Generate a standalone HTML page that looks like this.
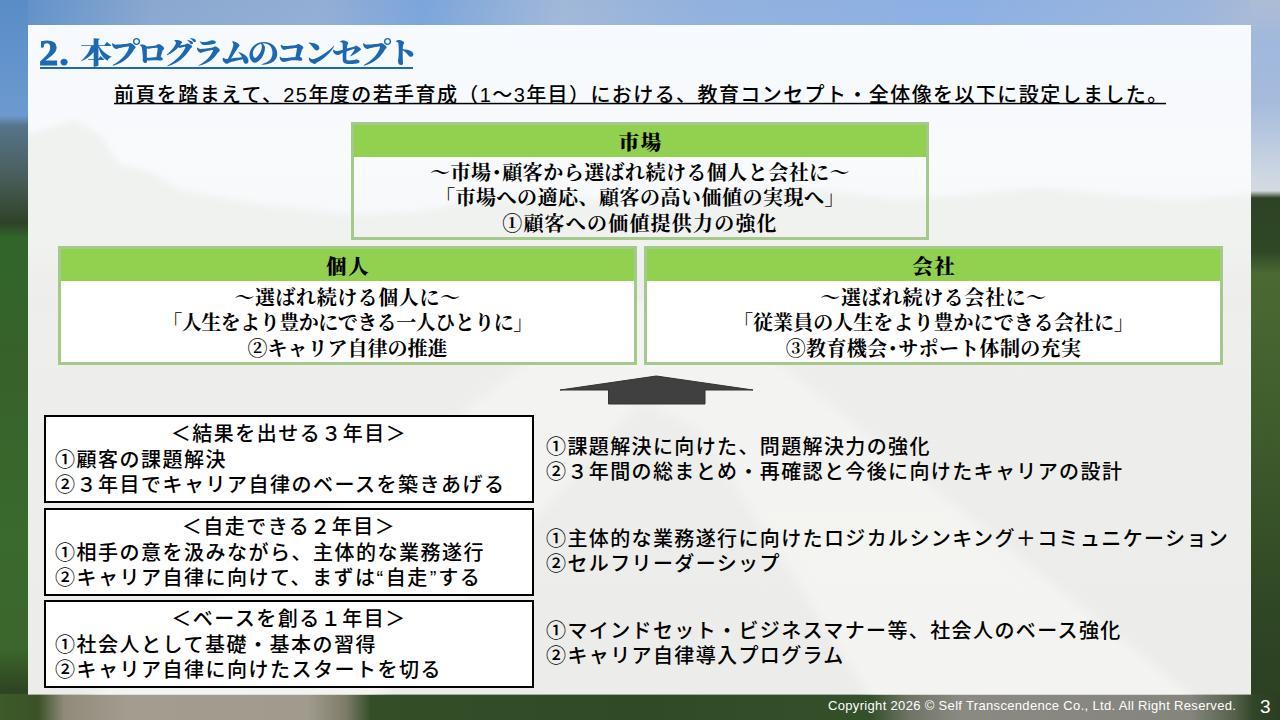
<!DOCTYPE html>
<html lang="ja">
<head>
<meta charset="utf-8">
<title>2. 本プログラムのコンセプト</title>
<style>
html,body{margin:0;padding:0;}
body{width:1280px;height:720px;overflow:hidden;position:relative;background:#3a5a2a;font-family:"Liberation Sans","Noto Sans CJK JP",sans-serif;color:#000;}
#bg{position:absolute;left:0;top:0;width:1280px;height:720px;}
.abs{position:absolute;white-space:nowrap;}
#title{left:39px;top:35px;font-family:"Liberation Serif","Noto Serif CJK JP","Noto Serif CJK SC",serif;font-weight:900;font-size:29px;letter-spacing:-3.6px;line-height:38px;color:#1d69b1;transform:scaleX(1.1);transform-origin:0 0;}
#title b{font-family:"Liberation Serif",serif;font-weight:700;font-size:35px;letter-spacing:1px;margin-right:5.6px;line-height:30px;position:relative;top:0.5px;-webkit-text-stroke:0.9px #1d69b1;}
#tul{left:40px;top:67px;width:373px;height:2px;background:#1d69b1;}
#sub{left:114px;top:81.6px;font-size:20px;line-height:26px;font-weight:500;letter-spacing:1.415px;}
#sul{left:114px;top:102px;width:1052px;height:3px;background:linear-gradient(rgba(0,0,0,.2) 33%,#000 33%,#000 66%,rgba(0,0,0,.3) 66%);}
.gbox{position:absolute;box-sizing:border-box;border:3px solid #a5c98b;background:#fff;font-family:"Liberation Serif","Noto Serif CJK JP","Noto Serif CJK SC",serif;font-weight:700;font-size:20px;text-align:center;}
.gbox .hd{background:#92d050;height:32px;line-height:37.4px;font-weight:900;font-size:20.5px;letter-spacing:1.5px;text-indent:1.5px;overflow:hidden;}
.gbox .bd{line-height:25.3px;padding-top:4.8px;}
.gbox .bd div{white-space:nowrap;}
.kbox{position:absolute;box-sizing:border-box;border:2px solid #000;background:#fff;left:44px;width:490px;height:88px;font-size:20px;font-weight:500;line-height:25.4px;padding:5.3px 0 0 9px;letter-spacing:1.5px;}
.kbox .c{text-align:center;margin-left:-9px;}
.rt{left:546px;font-size:20px;font-weight:500;line-height:25.2px;letter-spacing:1.38px;}
#copy{left:828px;top:696px;color:#fff;font-size:13px;letter-spacing:0.33px;line-height:20px;}
#pn{left:1260px;top:693px;color:#fff;font-size:19px;line-height:28px;}
</style>
</head>
<body>
<svg id="bg" viewBox="0 0 1280 720" preserveAspectRatio="none">
<defs>
<linearGradient id="sky" x1="0" y1="0" x2="1" y2="0">
<stop offset="0" stop-color="#598bc6"/><stop offset="0.04" stop-color="#6a96cb"/><stop offset="0.12" stop-color="#8aa8d0"/><stop offset="0.25" stop-color="#93aed4"/><stop offset="0.33" stop-color="#7ba5dc"/><stop offset="0.44" stop-color="#a1b8d8"/><stop offset="0.55" stop-color="#92b1de"/><stop offset="0.75" stop-color="#8cb0e4"/><stop offset="0.93" stop-color="#9bb5dc"/><stop offset="1" stop-color="#acbdd6"/>
</linearGradient>
<linearGradient id="haze" x1="0" y1="0" x2="0" y2="1">
<stop offset="0" stop-color="#fff" stop-opacity="0"/><stop offset="0.35" stop-color="#fff" stop-opacity="0.05"/><stop offset="1" stop-color="#fff" stop-opacity="0.5"/>
</linearGradient>
<linearGradient id="grass" x1="0" y1="0" x2="0" y2="1">
<stop offset="0" stop-color="#35552a"/><stop offset="0.5" stop-color="#3a5e2a"/><stop offset="1" stop-color="#34502a"/>
</linearGradient>
<linearGradient id="ls" x1="0" y1="0" x2="0" y2="720" gradientUnits="userSpaceOnUse">
<stop offset="0" stop-color="#5a8cc7"/><stop offset="0.16" stop-color="#6c9ad0"/><stop offset="0.175" stop-color="#56748a"/><stop offset="0.25" stop-color="#485c58"/><stop offset="0.31" stop-color="#2e4228"/><stop offset="0.33" stop-color="#31662a"/><stop offset="0.5" stop-color="#37622a"/><stop offset="0.75" stop-color="#3a6a2c"/><stop offset="0.9" stop-color="#3c662c"/><stop offset="0.96" stop-color="#2e4422"/><stop offset="1" stop-color="#4a4a30"/>
</linearGradient>
<linearGradient id="rs" x1="0" y1="0" x2="0" y2="720" gradientUnits="userSpaceOnUse">
<stop offset="0" stop-color="#adbcd4"/><stop offset="0.06" stop-color="#a0b8dc"/><stop offset="0.14" stop-color="#a4bbdc"/><stop offset="0.24" stop-color="#ccd6e2"/><stop offset="0.265" stop-color="#d4dae2"/><stop offset="0.275" stop-color="#2d4224"/><stop offset="0.35" stop-color="#304826"/><stop offset="0.38" stop-color="#4a6a32"/><stop offset="0.6" stop-color="#3f5c2c"/><stop offset="0.85" stop-color="#2f4624"/><stop offset="1" stop-color="#2c3e22"/>
</linearGradient>
<linearGradient id="pg" x1="0" y1="25" x2="0" y2="694" gradientUnits="userSpaceOnUse">
<stop offset="0" stop-color="#f6f9fd"/><stop offset="0.2" stop-color="#f8fafc"/><stop offset="0.3" stop-color="#f6f8f9"/><stop offset="0.36" stop-color="#eeefed"/><stop offset="1" stop-color="#ececea"/>
</linearGradient>
<linearGradient id="tf" x1="0" y1="0" x2="0" y2="1">
<stop offset="0" stop-color="#f0f2f0"/><stop offset="1" stop-color="#ededeb"/>
</linearGradient>
<linearGradient id="bs" x1="0" y1="0" x2="1280" y2="0" gradientUnits="userSpaceOnUse">
<stop offset="0" stop-color="#3c5a2a"/><stop offset="0.03" stop-color="#3c5228"/><stop offset="0.05" stop-color="#8f8a7a"/><stop offset="0.1" stop-color="#a39d8f"/><stop offset="0.24" stop-color="#a19b8d"/><stop offset="0.27" stop-color="#7d7c68"/><stop offset="0.29" stop-color="#344e28"/><stop offset="0.5" stop-color="#304a26"/><stop offset="0.68" stop-color="#34502a"/><stop offset="0.71" stop-color="#6f7466"/><stop offset="0.75" stop-color="#8b8a82"/><stop offset="0.93" stop-color="#85857e"/><stop offset="0.965" stop-color="#55604a"/><stop offset="0.98" stop-color="#304426"/><stop offset="1" stop-color="#2c3e22"/>
</linearGradient>
<clipPath id="pc"><rect x="28" y="25" width="1223" height="669.6"/></clipPath>
<filter id="bl" x="-10%" y="-10%" width="120%" height="120%"><feGaussianBlur stdDeviation="6"/></filter>
<filter id="bl2" x="-10%" y="-10%" width="120%" height="120%"><feGaussianBlur stdDeviation="3"/></filter>
</defs>
<rect width="1280" height="720" fill="url(#grass)"/>
<rect width="1280" height="260" fill="url(#sky)"/>
<rect width="1280" height="215" fill="url(#haze)"/>
<rect x="0" y="0" width="28" height="720" fill="url(#ls)"/>
<rect x="1251" y="0" width="29" height="720" fill="url(#rs)"/>
<rect x="0" y="694" width="1280" height="26" fill="url(#bs)"/>
<rect x="28" y="25" width="1223" height="669.6" fill="url(#pg)"/>
<g clip-path="url(#pc)">
<path filter="url(#bl2)" d="M20 135 L50 128 L75 120 L100 135 L120 165 L150 172 L180 190 L260 205 L350 215 L420 212 L480 200 L560 196 L640 206 L700 204 L760 192 L820 190 L900 200 L960 196 L1040 188 L1100 194 L1180 200 L1230 196 L1260 194 L1260 300 L20 300 Z" fill="#f0f2f0"/>
<rect x="20" y="240" width="1240" height="70" fill="url(#tf)"/>
<g filter="url(#bl)" opacity="0.9">
<path d="M610 300 L700 300 L1235 730 L890 730 L700 430 L640 400 L350 730 L45 730 Z" fill="#f4f4f2"/>
</g>
</g>
</svg>

<div id="title" class="abs"><b>2.</b> 本プログラムのコンセプト</div>
<div id="tul" class="abs"></div>
<div id="sub" class="abs">前頁を踏まえて、25年度の若手育成（1～3年目）における、教育コンセプト・全体像を以下に設定しました。</div>
<div id="sul" class="abs"></div>

<div class="gbox" style="left:351px;top:122px;width:578px;height:118px;background:transparent;">
<div class="hd">市場</div>
<div class="bd" style="padding-top:4.2px"><div style="letter-spacing:0.45px">～市場<span style="margin:0 -4.75px">・</span>顧客から選ばれ続ける個人と会社に～</div><div style="letter-spacing:0.5px">「市場への適応、顧客の高い価値の実現へ」</div><div style="letter-spacing:1.2px">①顧客への価値提供力の強化</div></div>
</div>
<div class="gbox" style="left:58px;top:246.4px;width:579px;height:118.2px;">
<div class="hd">個人</div>
<div class="bd"><div style="letter-spacing:0.55px">～選ばれ続ける個人に～</div><div style="letter-spacing:-0.5px">「人生をより豊かにできる一人ひとりに」</div><div>②キャリア自律の推進</div></div>
</div>
<div class="gbox" style="left:644px;top:246.4px;width:579px;height:118.2px;">
<div class="hd">会社</div>
<div class="bd"><div style="letter-spacing:0.58px">～選ばれ続ける会社に～</div><div style="letter-spacing:0.05px">「従業員の人生をより豊かにできる会社に」</div><div style="letter-spacing:0.33px">③教育機会<span style="margin:0 -4.75px">・</span>サポート体制の充実</div></div>
</div>

<svg class="abs" style="left:556px;top:372px;" width="200" height="36" viewBox="556 372 200 36"><path d="M656.3 376 L753 390 L705 390 L705 404 L608.5 404 L608.5 390 L560 390 Z" fill="#404040" stroke="#333" stroke-width="1"/></svg>

<div class="kbox" style="top:415px;"><div class="c">＜結果を出せる３年目＞</div>①顧客の課題解決<br>②３年目でキャリア自律のベースを築きあげる</div>
<div class="kbox" style="top:508px;"><div class="c">＜自走できる２年目＞</div>①相手の意を汲みながら、主体的な業務遂行<br>②キャリア自律に向けて、まずは<span style="letter-spacing:2.5px">“</span>自走<span style="margin-left:1px;letter-spacing:2px">”</span>する</div>
<div class="kbox" style="top:600px;"><div class="c">＜ベースを創る１年目＞</div>①社会人として基礎・基本の習得<br>②キャリア自律に向けたスタートを切る</div>

<div class="rt abs" style="top:435px;">①課題解決に向けた、問題解決力の強化<br>②３年間の総まとめ・再確認と今後に向けたキャリアの設計</div>
<div class="rt abs" style="top:527px;">①主体的な業務遂行に向けたロジカルシンキング＋コミュニケーション<br>②セルフリーダーシップ</div>
<div class="rt abs" style="top:619px;">①マインドセット・ビジネスマナー等、社会人のベース強化<br>②キャリア自律導入プログラム</div>

<div id="copy" class="abs">Copyright 2026 © Self Transcendence Co., Ltd. All Right Reserved.</div>
<div id="pn" class="abs">3</div>
</body>
</html>
